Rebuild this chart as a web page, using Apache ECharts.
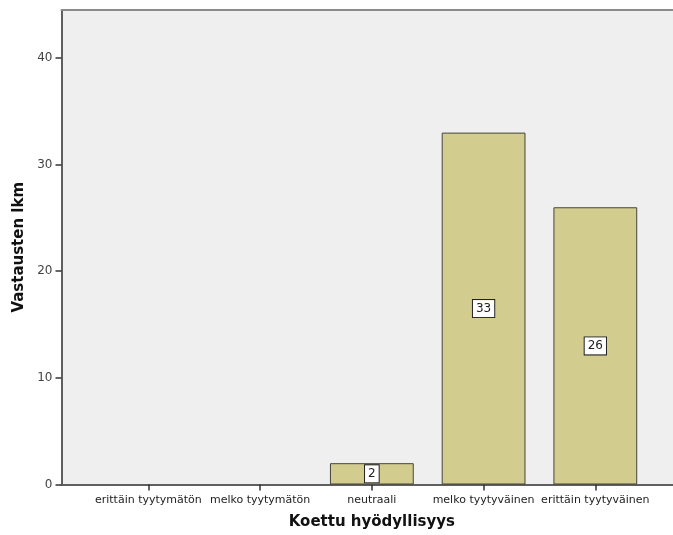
<!DOCTYPE html>
<html>
<head>
<meta charset="utf-8">
<script src="https://cdn.jsdelivr.net/npm/echarts@6/dist/echarts.min.js"></script>
<style>
  html, body { margin: 0; padding: 0; background: #ffffff; }
  #chart { width: 673px; height: 535px; }
</style>
</head>
<body>
<div id="chart"></div>
<script>
// Response categories and counts
const categories = ['erittäin tyytymätön', 'melko tyytymätön', 'neutraali', 'melko tyytyväinen', 'erittäin tyytyväinen'];
const counts = [0, 0, 2, 33, 26];
const yTicks = [0, 10, 20, 30, 40];

const xTitle = 'Koettu hyödyllisyys';
const yTitle = 'Vastausten lkm';

const FONT = 'DejaVu Sans';
const Y_MAX = 44.5;
const FRAME = { color: '#5f5f5f', width: 2 };

const chart = echarts.init(document.getElementById('chart'), null, { renderer: 'canvas' });

chart.setOption({
  animation: false,
  backgroundColor: '#ffffff',
  grid: [
    // shaded plot background, open on the right side
    { left: 61.5, right: 0, top: 10, bottom: 50.5, show: true,
      backgroundColor: '#efefef', borderWidth: 0 },
    // category band area for the bars
    { left: 92.5, right: 21.8, top: 10, bottom: 50.5 }
  ],
  xAxis: [
    // bottom frame line
    { gridIndex: 0, type: 'value', min: 0, max: 1, position: 'bottom',
      axisLine: { show: true, onZero: false, lineStyle: FRAME },
      axisTick: { show: false }, axisLabel: { show: false }, splitLine: { show: false } },
    // top frame line
    { gridIndex: 0, type: 'value', min: 0, max: 1, position: 'top',
      axisLine: { show: true, onZero: false, lineStyle: { color: '#8a8a8a', width: 2 } },
      axisTick: { show: false }, axisLabel: { show: false }, splitLine: { show: false } },
    {
      gridIndex: 1, type: 'category', data: categories,
      axisLine: { show: false },
      axisTick: { show: true, alignWithLabel: true, length: 6, lineStyle: { color: '#333', width: 1.5 } },
      axisLabel: { fontFamily: FONT, fontSize: 11, color: '#222', margin: 10, interval: 0 },
      name: xTitle, nameLocation: 'middle', nameGap: 30,
      nameTextStyle: { fontFamily: FONT, fontSize: 15, fontWeight: 'bold', color: '#111' }
    }
  ],
  yAxis: [
    {
      gridIndex: 0, type: 'value', min: 0, max: Y_MAX,
      axisLine: { show: true, lineStyle: FRAME },
      axisTick: { show: true, length: 6, customValues: yTicks, lineStyle: { color: '#333', width: 1.5 } },
      axisLabel: { fontFamily: FONT, fontSize: 12, color: '#444', margin: 9, customValues: yTicks },
      splitLine: { show: false },
      name: yTitle, nameLocation: 'middle', nameGap: 32,
      nameTextStyle: { fontFamily: FONT, fontSize: 15, fontWeight: 'bold', color: '#111' }
    },
    { gridIndex: 1, type: 'value', min: 0, max: Y_MAX, show: false }
  ],
  series: [{
    type: 'bar',
    xAxisIndex: 2, yAxisIndex: 1,
    barWidth: '75%',
    data: counts.map(v => ({
      value: v,
      label: { show: v > 0 },
      itemStyle: v > 0 ? undefined : { color: 'transparent', borderWidth: 0 }
    })),
    itemStyle: { color: '#d2cd8f', borderColor: '#45453a', borderWidth: 1 },
    label: {
      position: 'inside',
      fontFamily: FONT, fontSize: 12, color: '#222',
      backgroundColor: '#ffffff', borderColor: '#222', borderWidth: 1,
      padding: [3, 3, 2, 3]
    }
  }]
});
</script>
</body>
</html>
